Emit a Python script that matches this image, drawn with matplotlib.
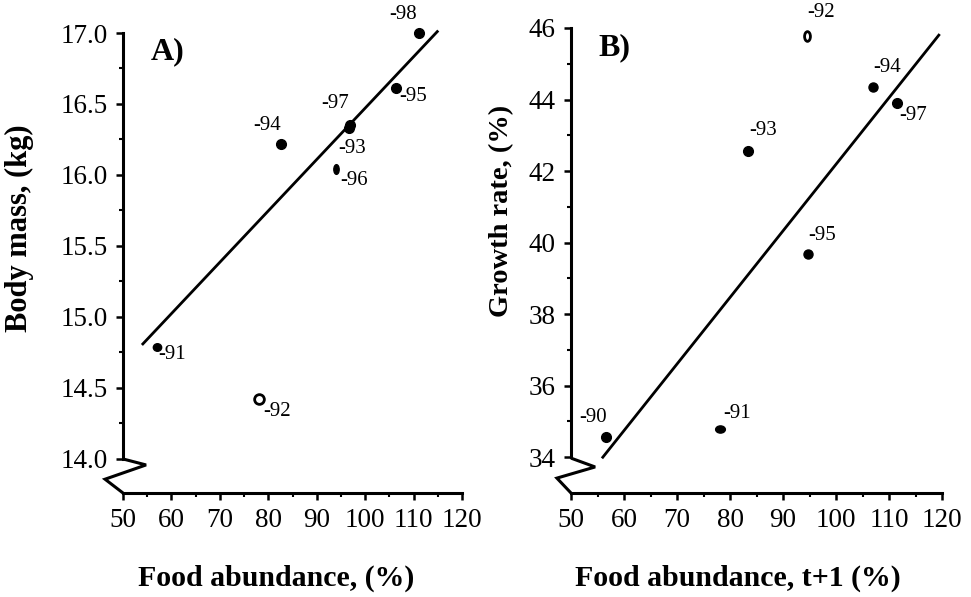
import numpy as np
import matplotlib
matplotlib.use("Agg")
import matplotlib.pyplot as plt
from matplotlib.path import Path
from matplotlib.transforms import Affine2D

plt.rcParams["font.family"] = ["Liberation Serif", "DejaVu Serif"]

# Panel A: body mass vs food abundance
a_years = ["-98", "-95", "-97", "-93", "-94", "-96", "-91", "-92"]
a_food = [111.2, 106.4, 96.9, 96.7, 82.6, 94.0, 57.0, 78.1]
a_mass = [17.00, 16.61, 16.35, 16.33, 16.22, 16.04, 14.79, 14.42]
a_open = [False, False, False, False, False, False, False, True]
a_line_x = [54.1, 114.9]
a_line_y = [14.81, 17.01]

# Panel B: growth rate vs food abundance next year
b_years = ["-92", "-94", "-97", "-93", "-95", "-90", "-91"]
b_food = [94.5, 107.0, 111.5, 83.4, 94.7, 56.6, 78.1]
b_growth = [45.78, 44.35, 43.90, 42.56, 39.68, 34.56, 34.78]
b_open = [True, False, False, False, False, False, False]
b_line_x = [56.0, 119.4]
b_line_y = [34.0, 45.8]

x_ticks = [50, 60, 70, 80, 90, 100, 110, 120]

# label offsets in pixels (dx, dy up), marker aspect (w, h)
a_offsets = [(-16, 19), (17, -8), (-15, 22), (3, -20), (-14, 18), (18, -11), (15, -8), (18, -12)]
a_aspect = [(1, 1), (1, 1), (1, 1), (1, 1), (1, 1), (0.55, 1), (1.1, 1), (1, 1)]
a_size = [7, 7, 7, 7, 7, 7, 6, 7]
b_offsets = [(14, 23), (14, 20), (16, -12), (15, 21), (14, 19), (-13, 20), (17, 16)]
b_aspect = [(0.6, 1), (1, 1), (1, 1), (1, 1), (1, 1), (1, 1), (1.35, 1)]
b_size = [7, 6.5, 7, 7, 6.5, 7, 7]

BLACK = "black"


def ellipse_marker(w, h):
    return Path.unit_circle().transformed(Affine2D().scale(w, h))


def style_axes(ax, ybounds, ymajor, yminor, yfmt):
    for side in ("top", "right"):
        ax.spines[side].set_visible(False)
    ax.spines["left"].set_bounds(*ybounds)
    ax.spines["bottom"].set_bounds(50, 120)
    for side in ("left", "bottom"):
        ax.spines[side].set_linewidth(2.2)
    ax.set_xlim(50, 120)
    ax.set_xticks(x_ticks)
    ax.set_xticks(np.arange(55, 120, 10), minor=True)
    ax.set_yticks(ymajor)
    ax.set_yticks(yminor, minor=True)
    ax.set_yticklabels([yfmt.format(v) for v in ymajor])
    ax.tick_params(which="major", direction="out", length=5, width=1.8,
                   labelsize=19.5, pad=6)
    ax.tick_params(which="minor", direction="out", length=3, width=1.5)


def draw_points(ax, xs, ys, labels, opens, aspects, sizes, offsets):
    for x, y, lab, op, asp, s, off in zip(xs, ys, labels, opens, aspects, sizes, offsets):
        ax.plot([x], [y], marker=ellipse_marker(*asp), markersize=s,
                markerfacecolor="white" if op else BLACK,
                markeredgecolor=BLACK, markeredgewidth=2.0 if op else 1.0,
                linestyle="none", clip_on=False, zorder=3)
        ax.annotate(lab, (x, y), xytext=off, textcoords="offset pixels",
                    ha="center", va="center", fontsize=15, annotation_clip=False)


def draw_break(ax, xs, ys):
    ax.plot(xs, ys, color=BLACK, lw=2.2, transform=ax.transAxes,
            clip_on=False, solid_joinstyle="miter", solid_capstyle="butt")


W, H = 971, 597
fig = plt.figure(figsize=(W / 100, H / 100), dpi=100)

# ---- Panel A ----
axA = fig.add_axes([123 / W, 1 - 493 / H, 339 / W, 460 / H])
axA.set_ylim(13.76, 17.0)
style_axes(axA, (14.0, 17.0), np.arange(14.0, 17.01, 0.5),
           np.arange(14.25, 17.0, 0.5), "{:.1f}")
axA.plot(a_line_x, a_line_y, color=BLACK, lw=2.0, clip_on=False)
draw_points(axA, a_food, a_mass, a_years, a_open, a_aspect, a_size, a_offsets)
draw_break(axA, [0, 0.068, -0.053, 0], [0.074, 0.061, 0.030, 0])
axA.set_xlabel("Food abundance, (%)", fontsize=21.5, fontweight="bold")
axA.xaxis.set_label_coords(0.453, -0.185)
axA.xaxis.label.set_va("center")
axA.set_ylabel("Body mass, (kg)", fontsize=22, fontweight="bold")
axA.yaxis.set_label_coords(-0.304, 0.576)
axA.yaxis.label.set_va("center")
axA.text(45 / 339, 1 - 19 / 460, "A)", transform=axA.transAxes,
         fontsize=23, fontweight="bold", ha="center", va="center")

# ---- Panel B ----
axB = fig.add_axes([571 / W, 1 - 493 / H, 371 / W, 465 / H])
axB.set_ylim(33.0, 46.0)
style_axes(axB, (34, 46), np.arange(34, 47, 2), np.arange(35, 46, 2), "{:.0f}")
axB.plot(b_line_x, b_line_y, color=BLACK, lw=2.0, clip_on=False)
draw_points(axB, b_food, b_growth, b_years, b_open, b_aspect, b_size, b_offsets)
draw_break(axB, [0, 0.065, -0.038, 0], [0.075, 0.056, 0.032, 0])
axB.set_xlabel("Food abundance, t+1 (%)", fontsize=21.5, fontweight="bold")
axB.xaxis.set_label_coords(0.45, -0.183)
axB.xaxis.label.set_va("center")
axB.set_ylabel("Growth rate, (%)", fontsize=20.5, fontweight="bold")
axB.yaxis.set_label_coords(-0.186, 0.606)
axB.yaxis.label.set_va("center")
axB.text(43 / 371, 1 - 20 / 465, "B)", transform=axB.transAxes,
         fontsize=23, fontweight="bold", ha="center", va="center")

fig.savefig("out.png", dpi=100)
